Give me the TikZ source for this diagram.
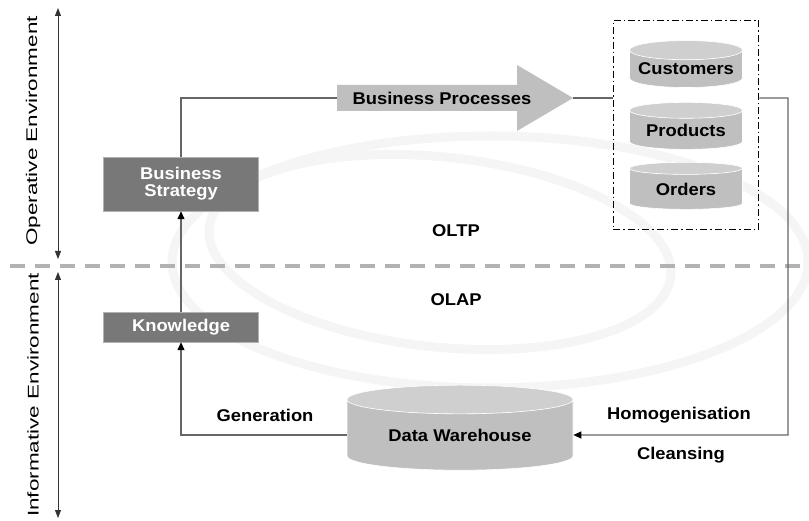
\documentclass[tikz,border=0pt]{standalone}
\usepackage{fontspec}
\setmainfont{Liberation Sans}[FakeStretch=1.08]
\newfontfamily\sidefont{Liberation Sans}[FakeStretch=1.45]
\usetikzlibrary{positioning,arrows.meta,shapes.geometric,fit}

\begin{document}
\begin{tikzpicture}[x=1pt,y=-1pt,
    every node/.style={font=\fontsize{17}{19}\selectfont\bfseries},
    darkbox/.style={fill=black!53, draw=black!30, text=white, minimum width=155pt, align=center, inner sep=2pt},
    store/.style={cylinder, shape border rotate=90, aspect=0.2, cylinder uses custom fill,
        cylinder body fill=black!25, cylinder end fill=black!19, draw=white, line width=0.6pt, inner sep=0pt},
    flow/.style={draw=black!60, line width=1.3pt},
    tip/.style={-{Triangle[length=8pt,width=7pt,color=black]}},
    swirl/.style={draw=black!4, line width=9pt},
    ]
    \useasboundingbox (0,0) rectangle (809,521);

    % faint rings in the background
    \draw[swirl] (490,262) ellipse [x radius=318, y radius=126];
    \draw[swirl, rotate around={-6:(440,252)}] (440,252) ellipse [x radius=232, y radius=95];

    % operative / informative split
    \coordinate (split-l) at (10,266);
    \coordinate (split-r) at (809,266);
    \draw[black!30, line width=3.5pt, dash pattern=on 15pt off 10pt] (split-l) -- (split-r);

    \coordinate (op-top) at (58,8);
    \coordinate (op-bot) at (58,259);
    \coordinate (in-top) at (58,272);
    \coordinate (in-bot) at (58,518);
    \draw[black!80, line width=0.8pt, {Triangle[length=8pt,width=6pt]}-{Triangle[length=8pt,width=6pt]}] (op-top) -- (op-bot);
    \draw[black!80, line width=0.8pt, {Triangle[length=8pt,width=6pt]}-{Triangle[length=8pt,width=6pt]}] (in-top) -- (in-bot);
    \node[rotate=90, font=\fontsize{15.5}{17}\sidefont] (op-label) at (33,131) {Operative Environment};
    \node[rotate=90, font=\fontsize{15.5}{17}\sidefont] (in-label) at (33,395) {Informative Environment};

    % boxes on the left
    \node[darkbox, minimum height=54pt] (strategy) at (181,184) {Business\\[-2pt]Strategy};
    \node[darkbox, minimum height=30pt] (knowledge) at (181,327) {Knowledge};

    % operational stores
    \node[store, minimum width=113pt, minimum height=47pt] (customers) at (686,69) {Customers};
    \node[store, minimum width=113pt, minimum height=47pt] (products) at (686,130) {Products};
    \node[store, minimum width=113pt, minimum height=47pt] (orders) at (686,189) {Orders};
    \node[draw, line width=1.3pt, dash pattern=on 7pt off 3pt on 1.5pt off 3pt,
        fit=(customers)(orders), inner xsep=16pt, inner ysep=20pt] (stores) {};

    \node[store, minimum width=226pt, minimum height=85pt] (dw) at (460,435) {Data Warehouse};

    % business processes arrow
    \coordinate (bp-tail) at (337,98);
    \coordinate (bp-tip) at (573,98);
    \fill[black!25] (bp-tail) ++(0,-13) -- (517,85) -- (517,65) -- (bp-tip)
        -- (517,131) -- (517,111) -- (337,111) -- cycle;
    \node (bp-text) at (442,98) {Business Processes};

    % flows
    \draw[flow] (strategy.north) |- (bp-tail);
    \draw[flow] (bp-tip) -- (stores.west |- bp-tip);
    \coordinate (corner) at (788,435);
    \draw[flow, tip] (stores.east |- bp-tip) -| (corner) -- (dw.east);
    \draw[flow, tip] (dw.west) -| (knowledge.south);
    \draw[flow, tip] (knowledge.north) -- (strategy.south);

    % labels
    \node (oltp) at (456,231) {OLTP};
    \node (olap) at (456,300) {OLAP};
    \node (generation) at (265,415) {Generation};
    \node (homog) at (679,415) {Homogenisation};
    \node (cleansing) at (681,455) {Cleansing};
\end{tikzpicture}
\end{document}
